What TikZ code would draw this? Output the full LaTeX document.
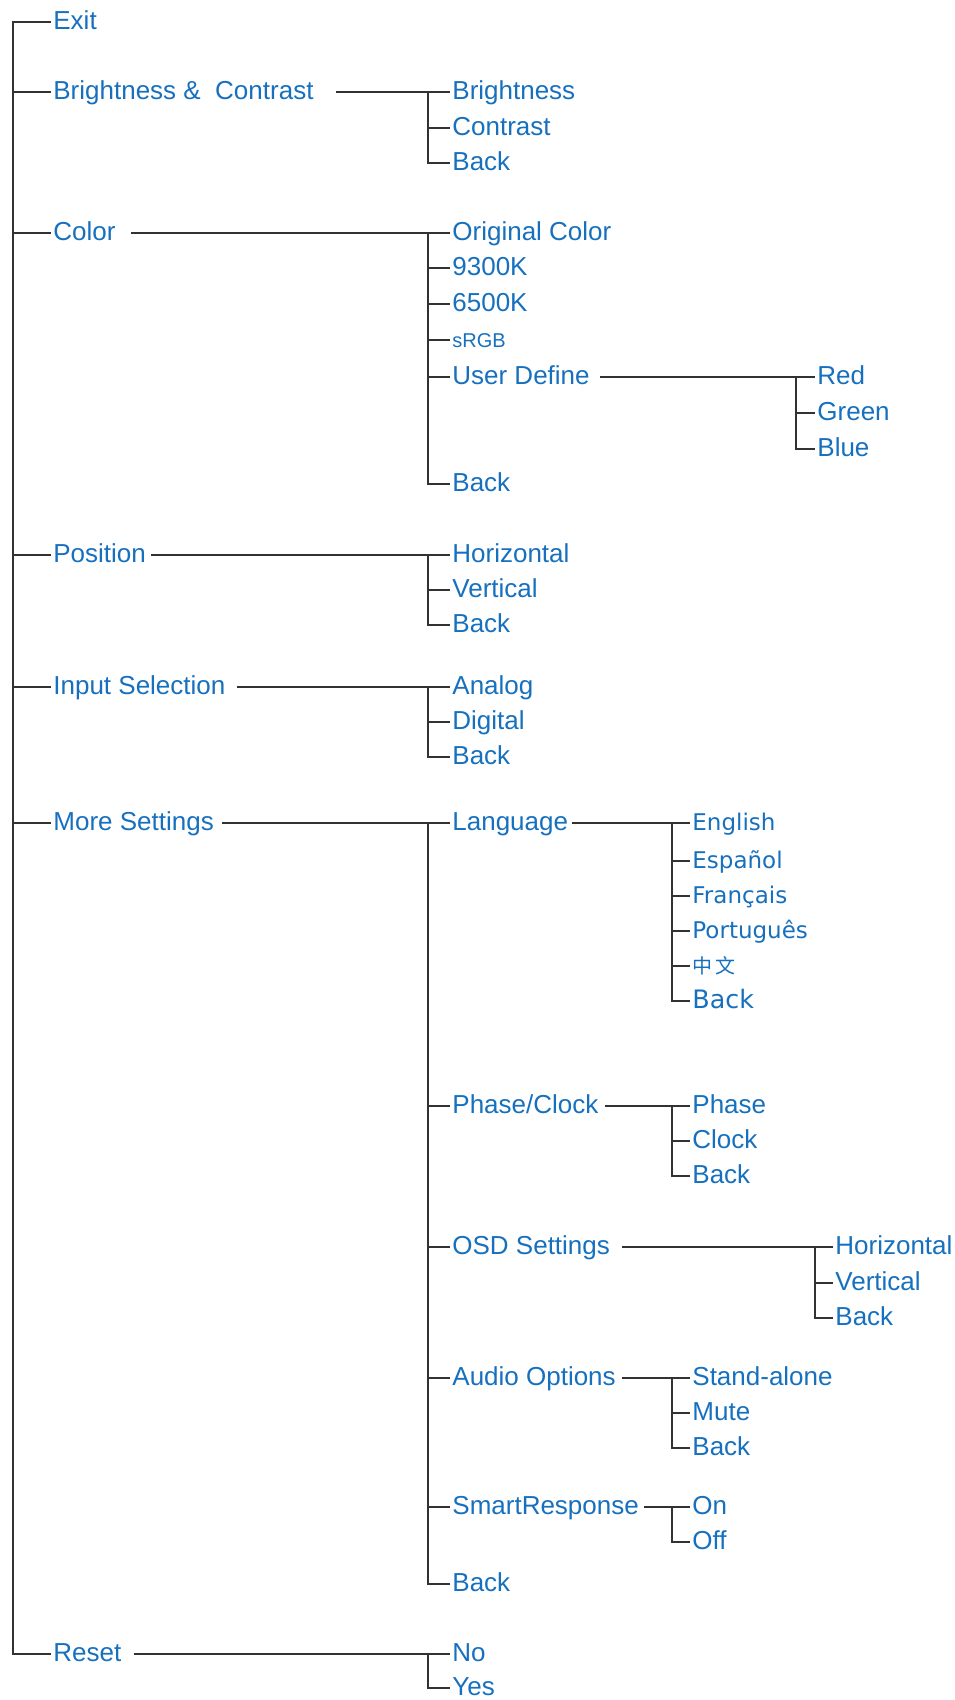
\documentclass[tikz,border=0pt]{standalone}
\usepackage{fontspec}
\setmainfont{Liberation Sans}
\newfontfamily\langfont{DejaVu Sans}
\newfontfamily\cjkfont{Noto Sans CJK SC}
\usepackage{xcolor}
\usepackage{tikz}
\usetikzlibrary{positioning}
\definecolor{menublue}{RGB}{22,112,190}
\definecolor{treegray}{RGB}{50,50,50}
\tikzset{
  item/.style={anchor=west,inner sep=1pt,text=menublue,text height=0.72em,text depth=0pt},
  langitem/.style={item,font=\langfont\fontsize{11.5}{13}\selectfont},
  branch/.style={draw=treegray,line width=1.3pt}
}

\begin{document}
\begin{tikzpicture}[x=0.5pt,y=-0.5pt,font=\fontsize{13}{15}\selectfont]
    \useasboundingbox (0,0) rectangle (954,1700);

    % main menu
    \foreach \y/\name/\id in {22/Exit/exit,92/Brightness \& \ Contrast/bc,233/Color/color,555/Position/pos,687/Input Selection/input,823/More Settings/more,1654/Reset/reset}
        \node[item] (\id) at (51,\y) {\name};
    \draw[branch] (exit.west) -- ++(-38,0) |- (reset.west);
    \foreach \id in {bc,color,pos,input,more}
        \draw[branch] (exit.west) ++(-38,0) |- (\id.west);

    % second level
    \foreach \y/\name/\id in {92/Brightness/1,128/Contrast/2,163/Back/3}
        \node[item] (bc\id) at (450,\y) {\name};
    \foreach \y/\name/\id in {233/Original Color/1,268/9300K/2,304/6500K/3,377/User Define/5,484/Back/6}
        \node[item] (col\id) at (450,\y) {\name};
    \node[item,font=\fontsize{10}{12}\selectfont] (col4) at (450,340) {sRGB};
    \foreach \y/\name/\id in {555/Horizontal/1,590/Vertical/2,625/Back/3}
        \node[item] (pos\id) at (450,\y) {\name};
    \foreach \y/\name/\id in {687/Analog/1,722/Digital/2,757/Back/3}
        \node[item] (in\id) at (450,\y) {\name};
    \foreach \y/\name/\id in {823/Language/1,1106/Phase\slash Clock/2,1247/OSD Settings/3,1378/Audio Options/4,1507/SmartResponse/5,1584/Back/6}
        \node[item] (ms\id) at (450,\y) {\name};
    \foreach \y/\name/\id in {1654/No/1,1688/Yes/2}
        \node[item] (rs\id) at (450,\y) {\name};

    \draw[branch] (bc.east) ++(20,0) -- (bc1.west);
    \foreach \i in {2,3} \draw[branch] (bc1.west) ++(-22,0) |- (bc\i.west);
    \draw[branch] (color.east) ++(13,0) -- (col1.west);
    \foreach \i in {2,...,6} \draw[branch] (col1.west) ++(-22,0) |- (col\i.west);
    \draw[branch] (pos.east) ++(3,0) -- (pos1.west);
    \foreach \i in {2,3} \draw[branch] (pos1.west) ++(-22,0) |- (pos\i.west);
    \draw[branch] (input.east) ++(9,0) -- (in1.west);
    \foreach \i in {2,3} \draw[branch] (in1.west) ++(-22,0) |- (in\i.west);
    \draw[branch] (more.east) ++(6,0) -- (ms1.west);
    \foreach \i in {2,...,6} \draw[branch] (ms1.west) ++(-22,0) |- (ms\i.west);
    \draw[branch] (reset.east) ++(10,0) -- (rs1.west);
    \draw[branch] (rs1.west) ++(-22,0) |- (rs2.west);

    % third level
    \foreach \y/\name/\id in {377/Red/1,413/Green/2,449/Blue/3}
        \node[item] (ud\id) at (815,\y) {\name};
    \foreach \y/\name/\id in {823/English/1,861/Español/2,896/Français/3,931/Português/4}
        \node[langitem] (lang\id) at (690,\y) {\name};
    \node[item,font=\cjkfont\fontsize{10}{12}\selectfont] (lang5) at (690,966) {中\,文};
    \node[langitem,font=\langfont\fontsize{12.7}{14}\selectfont] (lang6) at (690,1001) {Back};
    \foreach \y/\name/\id in {1106/Phase/1,1141/Clock/2,1176/Back/3}
        \node[item] (ph\id) at (690,\y) {\name};
    \foreach \y/\name/\id in {1247/Horizontal/1,1283/Vertical/2,1318/Back/3}
        \node[item] (osd\id) at (833,\y) {\name};
    \foreach \y/\name/\id in {1378/Stand-alone/1,1413/Mute/2,1448/Back/3}
        \node[item] (au\id) at (690,\y) {\name};
    \foreach \y/\name/\id in {1507/On/1,1542/Off/2}
        \node[item] (sr\id) at (690,\y) {\name};

    \draw[branch] (col5.east) ++(8,0) -- (ud1.west);
    \foreach \i in {2,3} \draw[branch] (ud1.west) ++(-19,0) |- (ud\i.west);
    \draw[branch] (ms1.east) ++(2,0) -- (lang1.west);
    \foreach \i in {2,...,6} \draw[branch] (lang1.west) ++(-18,0) |- (lang\i.west);
    \draw[branch] (ms2.east) ++(4,0) -- (ph1.west);
    \foreach \i in {2,3} \draw[branch] (ph1.west) ++(-18,0) |- (ph\i.west);
    \draw[branch] (ms3.east) ++(10,0) -- (osd1.west);
    \foreach \i in {2,3} \draw[branch] (osd1.west) ++(-18,0) |- (osd\i.west);
    \draw[branch] (ms4.east) ++(4,0) -- (au1.west);
    \foreach \i in {2,3} \draw[branch] (au1.west) ++(-18,0) |- (au\i.west);
    \draw[branch] (ms5.east) ++(3,0) -- (sr1.west);
    \draw[branch] (sr1.west) ++(-18,0) |- (sr2.west);
\end{tikzpicture}
\end{document}
